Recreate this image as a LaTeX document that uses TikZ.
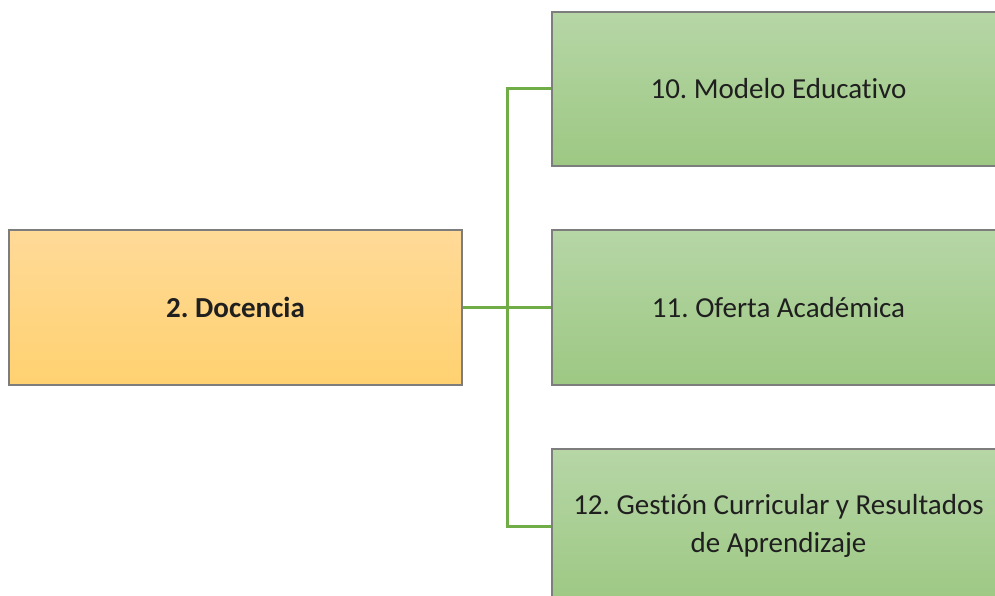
\documentclass[tikz,border=0pt]{standalone}
\usepackage{fontspec}
\setmainfont{Carlito}[Ligatures=NoCommon]
\frenchspacing
\definecolor{orTop}{RGB}{255,218,152}
\definecolor{orBot}{RGB}{255,209,112}
\definecolor{grTop}{RGB}{182,214,166}
\definecolor{grBot}{RGB}{157,200,131}
\definecolor{edgeGray}{RGB}{125,125,125}
\definecolor{linkGreen}{RGB}{112,173,71}
\tikzset{
  boxbase/.style={draw=edgeGray, line width=1.2pt, inner sep=0pt,
    minimum width=453pt, minimum height=155pt, align=center,
    text=black!88, font=\fontsize{29}{37}\selectfont},
  docbox/.style={boxbase, top color=orTop, bottom color=orBot},
  subbox/.style={boxbase, top color=grTop, bottom color=grBot},
  link/.style={draw=linkGreen, line width=3pt}
}
\begin{document}
\begin{tikzpicture}[x=1pt,y=-1pt]
\useasboundingbox (0,0) rectangle (995,596);
\clip (0,0) rectangle (995,596);
\node[docbox] (doc) at (235.5,307.5) {\raisebox{-4pt}{\textbf{2. Docencia}}};
\node[subbox, minimum height=154pt] (m10) at (778.5,89) {\raisebox{-5pt}{10. Modelo Educativo}};
\node[subbox] (m11) at (778.5,307.5) {\raisebox{-4pt}{11. Oferta Académica}};
\node[subbox] (m12) at (778.5,526.5) {\raisebox{-8pt}{\begin{tabular}{@{}c@{}}12. Gestión Curricular y Resultados\\[1pt] de Aprendizaje\end{tabular}}};
\coordinate (bus) at (507,307.5);
\draw[link] (doc.east) -- (m11.west);
\draw[link] (m10.west) -| (bus) |- (m12.west);
\end{tikzpicture}
\end{document}
